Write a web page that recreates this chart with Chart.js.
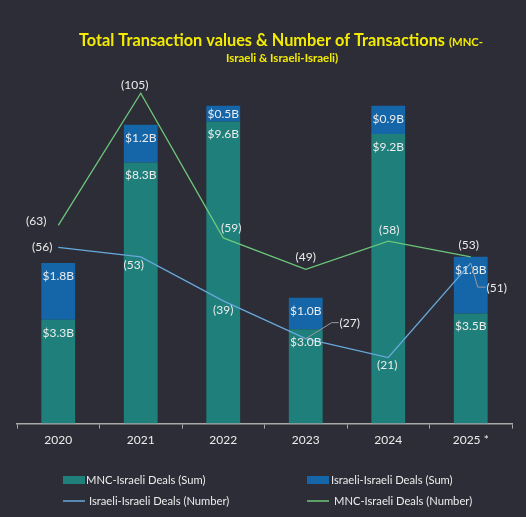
<!DOCTYPE html>
<html>
<head>
<meta charset="utf-8">
<script src="https://cdn.jsdelivr.net/npm/chart.js@4/dist/chart.umd.min.js"></script>
<style>
  html, body { margin: 0; padding: 0; background: #2d2d37; }
  #wrap { width: 526px; height: 517px; position: relative; }
</style>
</head>
<body>
<div id="wrap"><canvas id="dealsChart" width="526" height="517"></canvas></div>
<script>
// datos del grafico
const years = ['2020', '2021', '2022', '2023', '2024', '2025 *'];
const mncSum = [3.3, 8.3, 9.6, 3.0, 9.2, 3.5];          // $B
const israeliSum = [1.8, 1.2, 0.5, 1.0, 0.9, 1.8];      // $B
const israeliCount = [56, 53, 39, 27, 21, 51];
const mncCount = [63, 105, 59, 49, 58, 53];

// ubicacion de etiquetas de las lineas (dx, dy desde el punto)
const mncCountLabelOffset = [[-22, -4], [-6, -8], [8, -10], [0, -12], [1, -11], [-2, -12]];
const israeliCountLabelOffset = [[-16, 0], [-7, 8], [0, 9], [44, -16], [-1, 8], [26, 25]];
// lineas guia: indice -> puntos intermedios relativos
const israeliLeaders = { 3: [[26, -16], [33, -16]], 5: [[7, 24], [15, 24]] };

const FONT = 'Lato, "Open Sans", sans-serif';
const TEXT = '#ececec';

const titlePlugin = {
  id: 'customTitle',
  afterDraw(chart) {
    const ctx = chart.ctx;
    ctx.save();
    ctx.fillStyle = '#f3ec00';
    ctx.textBaseline = 'alphabetic';
    ctx.textAlign = 'left';
    ctx.font = 'bold 16.5px ' + FONT;
    ctx.fillText('Total Transaction values & Number of Transactions', 79, 46, 366);
    ctx.font = 'bold 11.5px ' + FONT;
    ctx.fillText('(MNC-', 449, 46, 34);
    ctx.textAlign = 'center';
    ctx.fillText('Israeli & Israeli-Israeli)', 282, 62, 121);
    ctx.restore();
  }
};

const labelsPlugin = {
  id: 'valueLabels',
  afterDatasetsDraw(chart) {
    const ctx = chart.ctx;
    ctx.save();
    ctx.font = '12px ' + FONT;
    ctx.fillStyle = TEXT;
    ctx.textAlign = 'center';
    ctx.textBaseline = 'middle';

    // etiquetas de barras
    [0, 1].forEach(di => {
      const meta = chart.getDatasetMeta(di);
      const values = chart.data.datasets[di].data;
      meta.data.forEach((bar, i) => {
        const top = Math.min(bar.y, bar.base);
        const bottom = Math.max(bar.y, bar.base);
        const y = Math.min(top + 13, (top + bottom) / 2);
        ctx.fillText('$' + values[i].toFixed(1) + 'B', bar.x, y);
      });
    });

    // etiquetas de lineas
    const drawLineLabels = (di, offsets, leaders) => {
      const meta = chart.getDatasetMeta(di);
      const values = chart.data.datasets[di].data;
      meta.data.forEach((pt, i) => {
        const [dx, dy] = offsets[i];
        if (leaders && leaders[i]) {
          ctx.strokeStyle = '#9a9a9a';
          ctx.lineWidth = 1;
          ctx.beginPath();
          ctx.moveTo(pt.x, pt.y);
          leaders[i].forEach(([lx, ly]) => ctx.lineTo(pt.x + lx, pt.y + ly));
          ctx.stroke();
        }
        ctx.fillStyle = TEXT;
        ctx.fillText('(' + values[i] + ')', pt.x + dx, pt.y + dy);
      });
    };
    drawLineLabels(3, mncCountLabelOffset, null);
    drawLineLabels(2, israeliCountLabelOffset, israeliLeaders);
    ctx.restore();
  }
};

const legendPlugin = {
  id: 'gridLegend',
  afterDraw(chart) {
    const ctx = chart.ctx;
    const ds = chart.data.datasets;
    const cells = [
      { i: 0, x: 63, y: 480, tx: 86 },
      { i: 1, x: 307, y: 480, tx: 331 },
      { i: 2, x: 63, y: 501, tx: 89 },
      { i: 3, x: 307, y: 501, tx: 334 }
    ];
    ctx.save();
    ctx.font = '11.2px ' + FONT;
    ctx.textBaseline = 'middle';
    ctx.textAlign = 'left';
    cells.forEach(c => {
      const d = ds[c.i];
      if (d.type === 'line') {
        ctx.strokeStyle = d.borderColor;
        ctx.lineWidth = 1.5;
        ctx.beginPath();
        ctx.moveTo(c.x, c.y);
        ctx.lineTo(c.x + 22, c.y);
        ctx.stroke();
      } else {
        ctx.fillStyle = d.backgroundColor;
        ctx.fillRect(c.x, c.y - 4, 22, 8);
      }
      ctx.fillStyle = TEXT;
      ctx.fillText(d.label, c.tx, c.y);
    });
    ctx.restore();
  }
};

const ctx = document.getElementById('dealsChart').getContext('2d');
new Chart(ctx, {
  data: {
    labels: years,
    datasets: [
      {
        type: 'bar',
        label: 'MNC-Israeli Deals (Sum)',
        data: mncSum,
        backgroundColor: '#1e7f7b',
        stack: 'sum',
        yAxisID: 'y',
        order: 2
      },
      {
        type: 'bar',
        label: 'Israeli-Israeli Deals (Sum)',
        data: israeliSum,
        backgroundColor: '#1566a8',
        stack: 'sum',
        yAxisID: 'y',
        order: 2
      },
      {
        type: 'line',
        label: 'Israeli-Israeli Deals (Number)',
        data: israeliCount,
        borderColor: '#68a9dc',
        borderWidth: 1.3,
        pointRadius: 0,
        tension: 0,
        yAxisID: 'y2',
        order: 1
      },
      {
        type: 'line',
        label: 'MNC-Israeli Deals (Number)',
        data: mncCount,
        borderColor: '#6cc77a',
        borderWidth: 1.3,
        pointRadius: 0,
        tension: 0,
        yAxisID: 'y2',
        order: 1
      }
    ]
  },
  options: {
    responsive: false,
    animation: false,
    datasets: { bar: { barPercentage: 0.41, categoryPercentage: 1 } },
    layout: { padding: { top: 46, left: 17, right: 14, bottom: 66 } },
    plugins: {
      legend: { display: false },
      title: { display: false },
      tooltip: { enabled: false }
    },
    scales: {
      x: {
        stacked: true,
        offset: true,
        grid: {
          offset: true,
          drawOnChartArea: false,
          drawTicks: true,
          tickLength: 5,
          color: '#a8a8a8'
        },
        border: { color: '#a8a8a8', width: 1.5 },
        ticks: { color: TEXT, font: { family: FONT, size: 12 }, padding: 4 }
      },
      y: { stacked: true, display: false, min: 0, max: 12 },
      y2: { display: false, min: 0, max: 120 }
    }
  },
  plugins: [titlePlugin, labelsPlugin, legendPlugin]
});
</script>
</body>
</html>
